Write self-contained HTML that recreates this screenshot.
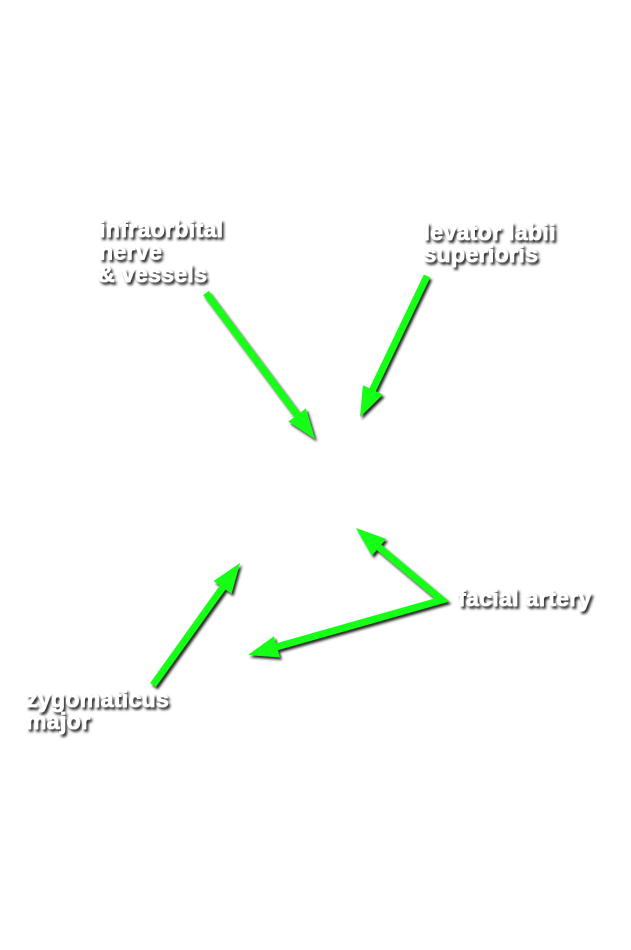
<!DOCTYPE html>
<html>
<head>
<meta charset="utf-8">
<style>
  html, body { margin:0; padding:0; background:#ffffff; }
  body { width:631px; height:950px; overflow:hidden; }
  svg { display:block; }
  text { font-family:"Liberation Sans", Arial, sans-serif; font-weight:bold; font-size:23px; fill:#ffffff; stroke:#ffffff; stroke-width:0.7px; letter-spacing:0.35px; }
</style>
</head>
<body>
<svg width="631" height="950" viewBox="0 0 631 950" xmlns="http://www.w3.org/2000/svg">
  <defs>
    <filter id="sh" x="-20%" y="-20%" width="140%" height="140%">
      <feGaussianBlur in="SourceAlpha" stdDeviation="1.2" result="b"/>
      <feOffset in="b" dx="2" dy="2.5" result="o"/>
      <feComponentTransfer in="o" result="s">
        <feFuncA type="linear" slope="1"/>
      </feComponentTransfer>
      <feFlood flood-color="#262626"/>
      <feComposite in2="s" operator="in" result="c"/>
      <feMerge>
        <feMergeNode in="c"/>
        <feMergeNode in="SourceGraphic"/>
      </feMerge>
    </filter>
  </defs>

  <g filter="url(#sh)">
    <!-- arrow 1: infraorbital -->
    <line x1="206" y1="293" x2="298" y2="416" stroke="#14ff14" stroke-width="7"/>
    <polygon points="315,439 288.3,421.6 305.9,408.4" fill="#14ff14"/>

    <!-- arrow 2: levator labii -->
    <line x1="427" y1="276" x2="372" y2="391" stroke="#14ff14" stroke-width="7"/>
    <polygon points="360,417 362.9,385.2 382.8,394.6" fill="#14ff14"/>

    <!-- arrows 3/4: facial artery -->
    <polyline points="379,547.3 442,600 276.9,646.8" fill="none" stroke="#14ff14" stroke-width="7" stroke-linejoin="miter"/>
    <polygon points="356,528 386.1,538.9 371.9,555.7" fill="#14ff14"/>
    <polygon points="248,655 273.9,636.2 279.9,657.4" fill="#14ff14"/>

    <!-- arrow 5: zygomaticus major -->
    <line x1="153" y1="685" x2="223" y2="587" stroke="#14ff14" stroke-width="7"/>
    <polygon points="240,563 231.5,593.8 213.6,581.0" fill="#14ff14"/>
  </g>

  <g filter="url(#sh)">
    <text x="99" y="237">infraorbital</text>
    <text x="99" y="259.5">nerve</text>
    <text x="98" y="282">&amp; vessels</text>

    <text x="423.5" y="240">levator labii</text>
    <text x="423.5" y="262">superioris</text>

    <text x="458" y="606">facial artery</text>

    <text x="26" y="707">zygomaticus</text>
    <text x="26" y="729">major</text>
  </g>
</svg>
</body>
</html>
